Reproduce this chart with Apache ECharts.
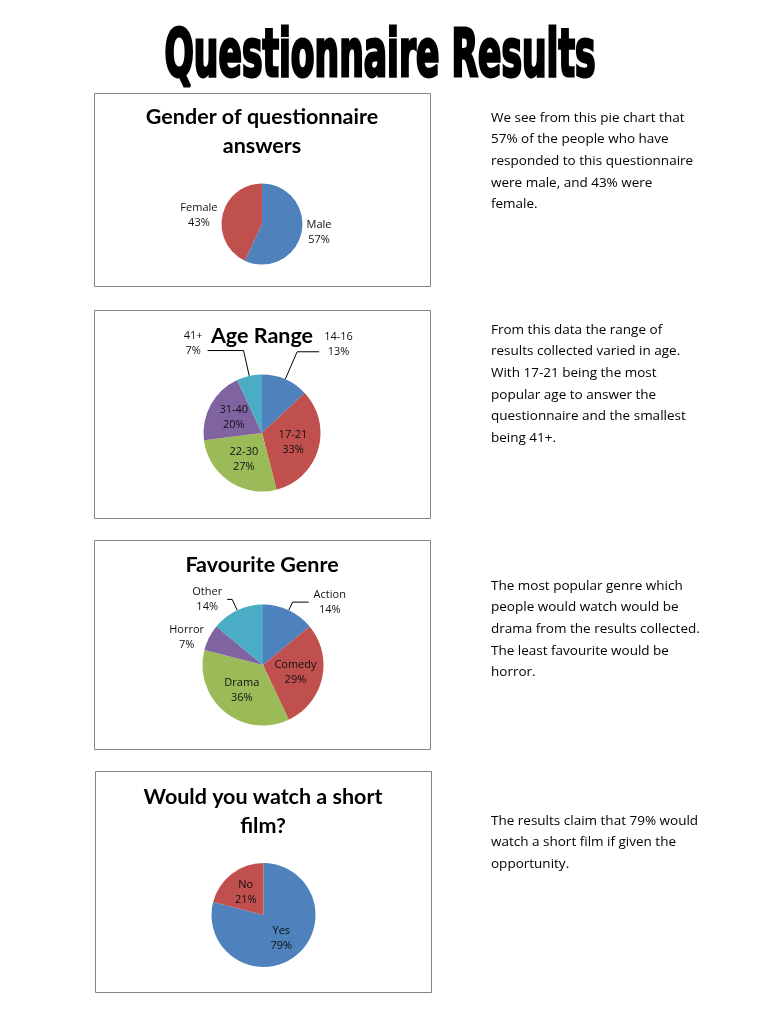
<!DOCTYPE html>
<html>
<head>
<meta charset="utf-8">
<script src="https://cdn.jsdelivr.net/npm/echarts@6/dist/echarts.min.js"></script>
<style>
html,body{margin:0;padding:0;background:#fff;}
#main{width:768px;height:1024px;}
</style>
</head>
<body>
<div id="main"></div>
<script>
// ---- data ----
const pageTitle = 'Questionnaire Results';

const genderTitle = 'Gender of questionnaire\nanswers';
const genderCats = ['Male', 'Female'];
const genderVals = [57, 43];
const genderText = ['We see from this pie chart that', '57% of the people who have', 'responded to this questionnaire', 'were male, and 43% were', 'female.'];

const ageTitle = 'Age Range';
const ageCats = ['14-16', '17-21', '22-30', '31-40', '41+'];
const ageVals = [13, 33, 27, 20, 7];
const ageText = ['From this data the range of', 'results collected varied in age.', 'With 17-21 being the most', 'popular age to answer the', 'questionnaire and the smallest', 'being 41+.'];

const genreTitle = 'Favourite Genre';
const genreCats = ['Action', 'Comedy', 'Drama', 'Horror', 'Other'];
const genreVals = [14, 29, 36, 7, 14];
const genreText = ['The most popular genre which', 'people would watch would be', 'drama from the results collected.', 'The least favourite would be', 'horror.'];

const filmTitle = 'Would you watch a short\nfilm?';
const filmCats = ['Yes', 'No'];
const filmVals = [79, 21];
const filmText = ['The results claim that 79% would', 'watch a short film if given the', 'opportunity.'];

// ---- styles ----
const palette = ['#4F81BD', '#C0504D', '#9BBB59', '#8064A2', '#4BACC6'];
const TFONT = 'Lato, "Open Sans", sans-serif';
const BFONT = '"Open Sans", Lato, sans-serif';

const LBL = '{t|{b}}\n{t|{c}%}';
const LBL_UP = '{t|{b}}\n{t|{c}%}\n{t| }';

// label overrides per slice (layout only)
const outsideNoLine = { label: { position: 'outside' }, labelLine: { show: false, length: 0, length2: 0 } };
const genderLabelCfg = [outsideNoLine, outsideNoLine];
const ageLabelCfg = [
  { label: { position: 'outside', formatter: LBL_UP }, labelLine: { show: true, length: 30, length2: 22 } },
  {}, {}, {},
  { label: { position: 'outside', formatter: LBL_UP }, labelLine: { show: true, length: 26, length2: 36 } }
];
const genreLabelCfg = [
  { label: { position: 'outside' }, labelLine: { show: true, length: 9, length2: 16 } },
  {}, {},
  outsideNoLine,
  { label: { position: 'outside' }, labelLine: { show: true, length: 12, length2: 5 } }
];
const filmLabelCfg = [{}, {}];

function buildData(cats, vals, cfg) {
  return cats.map((c, i) => Object.assign({ name: c, value: vals[i], itemStyle: { color: palette[i % palette.length] } }, cfg[i] || {}));
}

function pie(cats, vals, cfg, center, radius) {
  return {
    type: 'pie',
    center: center,
    radius: radius,
    startAngle: 90,
    clockwise: true,
    avoidLabelOverlap: false,
    silent: true,
    animation: false,
    itemStyle: { borderWidth: 0 },
    label: {
      show: true,
      position: 'inside',
      formatter: LBL,
      rich: {
        t: { fontFamily: BFONT, fontSize: 11, lineHeight: 15, color: '#111', align: 'center' }
      }
    },
    labelLine: { show: true, lineStyle: { color: '#000', width: 1 }, smooth: false },
    data: buildData(cats, vals, cfg)
  };
}

const boxes = [
  [94.5, 93.5, 336, 193],
  [94.5, 310.5, 336, 208],
  [94.5, 540.5, 336, 209],
  [95.5, 771.5, 336, 221]
];

const graphics = [];
boxes.forEach(b => graphics.push({
  type: 'rect', shape: { x: b[0], y: b[1], width: b[2], height: b[3] },
  style: { fill: '#fff', stroke: '#868686', lineWidth: 1 }, z: -10, silent: true
}));

function chartTitle(text, x, y) {
  graphics.push({
    type: 'text', x: x, y: y, silent: true,
    style: { text: text, fill: '#000', font: 'bold 21.5px ' + TFONT, lineHeight: 29, align: 'center', verticalAlign: 'top' }
  });
}
chartTitle(genderTitle, 262, 103);
chartTitle(ageTitle, 262, 322);
chartTitle(genreTitle, 262, 551);
chartTitle(filmTitle, 263, 783);

function para(lines, x, y) {
  graphics.push({
    type: 'text', x: x, y: y, silent: true,
    style: { text: lines.join('\n'), fill: '#000', font: '13.5px ' + BFONT, lineHeight: 21.7, align: 'left', verticalAlign: 'top' }
  });
}
para(genderText, 491, 107);
para(ageText, 491, 319);
para(genreText, 491, 575);
para(filmText, 491, 810);

graphics.push({
  type: 'text', x: 380, y: 59, scaleX: 0.8, scaleY: 1.38, silent: true,
  style: { text: pageTitle, fill: '#000', stroke: '#000', lineWidth: 2.2, font: 'bold 48px "DejaVu Sans Condensed", "DejaVu Sans", sans-serif', align: 'center', verticalAlign: 'middle' }
});

const chart = echarts.init(document.getElementById('main'), null, { renderer: 'canvas' });
chart.setOption({
  backgroundColor: '#fff',
  animation: false,
  graphic: { elements: graphics },
  series: [
    pie(genderCats, genderVals, genderLabelCfg, [262, 224], 40.5),
    pie(ageCats, ageVals, ageLabelCfg, [262, 433], 58.5),
    pie(genreCats, genreVals, genreLabelCfg, [263, 665], 60.5),
    pie(filmCats, filmVals, filmLabelCfg, [263.5, 915], 52)
  ]
});
</script>
</body>
</html>
